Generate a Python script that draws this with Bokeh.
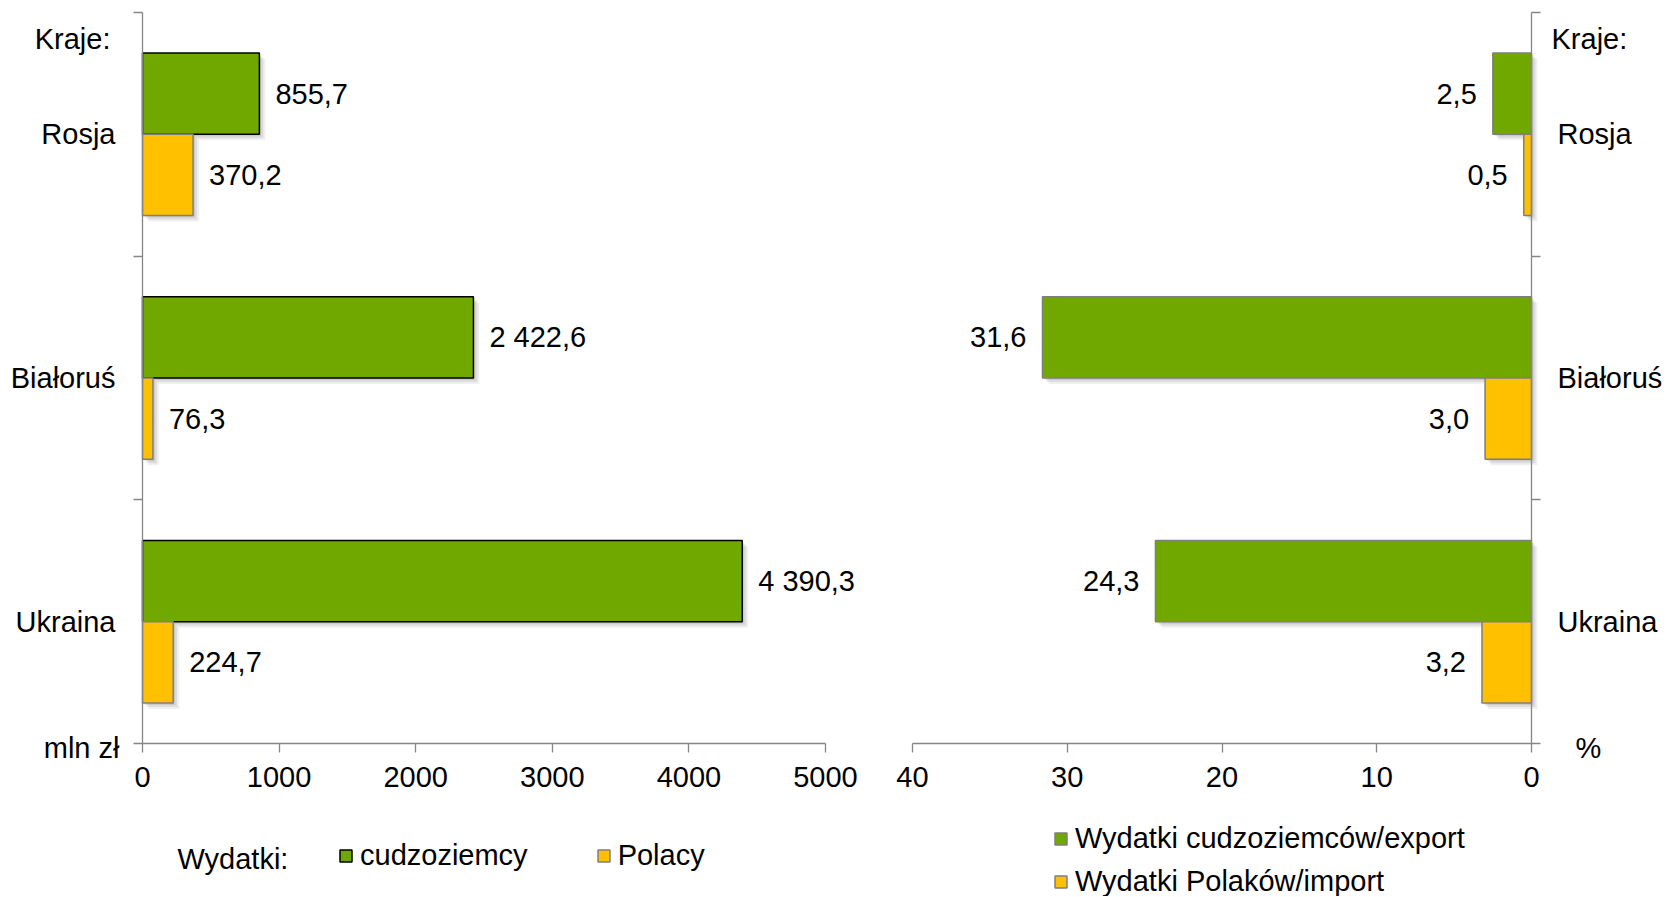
from bokeh.plotting import figure
from bokeh.models import (ColumnDataSource, FixedTicker, LinearAxis, Range1d,
                          Label, LabelSet, Legend, LegendItem)
from bokeh.layouts import row
from bokeh.embed import file_html
from bokeh.resources import INLINE
from bokeh.core.properties import value

# ---------------- data ----------------
countries = ["Rosja", "Białoruś", "Ukraina"]
foreigners_mln = [855.7, 2422.6, 4390.3]      # Wydatki cudzoziemców (mln zł)
poles_mln = [370.2, 76.3, 224.7]              # Wydatki Polaków (mln zł)
foreigners_pct = [2.5, 31.6, 24.3]            # % (export)
poles_pct = [0.5, 3.0, 3.2]                   # % (import)
left_ticks = [0, 1000, 2000, 3000, 4000, 5000]
right_ticks = [0, 10, 20, 30, 40]
left_max = 5000
right_max = 40
y_title = "Kraje:"
left_unit = "mln zł"
right_unit = "%"
legend_left_title = "Wydatki:"
legend_left_labels = ["cudzoziemcy", "Polacy"]
legend_right_labels = ["Wydatki cudzoziemców/export", "Wydatki Polaków/import"]

# ---------------- style / layout (pixels) ----------------
GREEN = "#70A800"
YELLOW = "#FFC000"
GRAY = "#868686"
BAR_EDGE = "#7F7F7F"
FONT = "Liberation Sans"
FS = "29px"
H = 896                          # canvas height
PLOT_TOP, PLOT_BOTTOM = 12, 743  # axis area inside canvas (px from top)
W1, L1, R1 = 870, 142, 825       # left canvas width, axis x-extent
W2, L2, R2 = 803, 42, 661        # right canvas width, axis x-extent
BAR_H = 1 / 3

n = len(countries)
pos = [n - 1 - i for i in range(n)]          # Rosja on top
sy = n / (PLOT_BOTTOM - PLOT_TOP)
y_range = (-0.5 - (H - PLOT_BOTTOM) * sy, n - 0.5 + PLOT_TOP * sy)


def fmt(v):
    return f"{v:,.1f}".replace(",", " ").replace(".", ",")


def make_fig(xr, w):
    p = figure(x_range=xr, y_range=Range1d(*y_range), width=w, height=H,
               min_border=0, output_backend="svg", toolbar_location=None,
               x_axis_location=None, y_axis_location=None)
    p.outline_line_color = None
    p.grid.grid_line_color = None
    p.background_fill_color = "white"
    p.border_fill_color = "white"
    return p


def add_axes(p, xticks, xmax, y_side, standoff):
    xa = LinearAxis(ticker=FixedTicker(ticks=xticks), fixed_location=-0.5,
                    bounds=(0, xmax),
                    axis_line_color=GRAY, axis_line_width=1.3,
                    major_tick_line_color=GRAY, major_tick_line_width=1.3,
                    major_tick_out=9, major_tick_in=0,
                    minor_tick_line_color=None,
                    major_label_text_font=FONT, major_label_text_font_size=FS,
                    major_label_text_color="black", major_label_standoff=14)
    p.add_layout(xa, "below")
    ya = LinearAxis(ticker=FixedTicker(ticks=pos,
                                       minor_ticks=[k - 0.5 for k in range(n + 1)]),
                    fixed_location=0, bounds=(-0.5, n - 0.5),
                    major_label_overrides={pos[i]: countries[i] for i in range(n)},
                    axis_line_color=GRAY, axis_line_width=1.3,
                    major_tick_line_color=None, major_tick_out=0, major_tick_in=0,
                    minor_tick_line_color=GRAY, minor_tick_line_width=1.3,
                    minor_tick_out=9, minor_tick_in=0,
                    major_label_text_font=FONT, major_label_text_font_size=FS,
                    major_label_text_color="black", major_label_standoff=standoff)
    p.add_layout(ya, y_side)


def bars(p, vals, offset, color, line_color, px_x, shadow_dir):
    ys = [y + offset for y in pos]
    for k, a in [(6, 0.06), (4, 0.08), (2, 0.09)]:
        dx = k * px_x * shadow_dir
        p.hbar(y=[y - k * sy for y in ys], left=[dx] * n,
               right=[v + dx for v in vals], height=BAR_H,
               fill_color="black", fill_alpha=a, line_color=None)
    src = ColumnDataSource(dict(y=ys, right=vals, text=[fmt(v) for v in vals]))
    r = p.hbar(y="y", left=0, right="right", height=BAR_H, source=src,
               fill_color=color, line_color=line_color, line_width=1.5)
    return r, src


def text_label(p, x, y, text, dx, dy, align):
    p.add_layout(Label(x=x, y=y, text=text, x_offset=dx, y_offset=dy,
                       text_align=align, text_baseline="middle",
                       text_font=FONT, text_font_size=FS, text_color="black"))


def legend(items, orientation, loc, spacing):
    return Legend(items=items, orientation=orientation, location=loc,
                  glyph_width=15, glyph_height=15, label_standoff=7,
                  spacing=spacing, padding=0, margin=0,
                  border_line_color=None, background_fill_alpha=0,
                  label_text_font=FONT, label_text_font_size=FS,
                  label_text_color="black")


# ---------------- left panel ----------------
sx1 = left_max / (R1 - L1)
p1 = make_fig(Range1d(-L1 * sx1, left_max + (W1 - R1) * sx1), W1)
add_axes(p1, left_ticks, left_max, "left", 18)
g1, gs1 = bars(p1, foreigners_mln, BAR_H / 2, GREEN, "black", sx1, 1)
y1, ys1 = bars(p1, poles_mln, -BAR_H / 2, YELLOW, BAR_EDGE, sx1, 1)
for s in (gs1, ys1):
    p1.add_layout(LabelSet(x="right", y="y", text="text", source=s,
                           x_offset=16, text_align="left", text_baseline="middle",
                           text_font=value(FONT), text_font_size=value(FS),
                           text_color="black"))
text_label(p1, 0, n - 0.61, y_title, -32, 0, "right")
text_label(p1, 0, -0.5, left_unit, -23, -4, "right")
text_label(p1, 0, -0.5, legend_left_title, 35, -115, "left")
p1.add_layout(legend([LegendItem(label=legend_left_labels[0], renderers=[g1]),
                      LegendItem(label=legend_left_labels[1], renderers=[y1])],
                     "horizontal", (338, 24), 68))

# ---------------- right panel ----------------
sx2 = right_max / (R2 - L2)
p2 = make_fig(Range1d(right_max + L2 * sx2, -(W2 - R2) * sx2), W2)
add_axes(p2, right_ticks, right_max, "right", 17)
g2, gs2 = bars(p2, foreigners_pct, BAR_H / 2, GREEN, BAR_EDGE, sx2, -1)
y2, ys2 = bars(p2, poles_pct, -BAR_H / 2, YELLOW, BAR_EDGE, sx2, -1)
for s in (gs2, ys2):
    p2.add_layout(LabelSet(x="right", y="y", text="text", source=s,
                           x_offset=-16, text_align="right", text_baseline="middle",
                           text_font=value(FONT), text_font_size=value(FS),
                           text_color="black"))
text_label(p2, 0, n - 0.61, y_title, 20, 0, "left")
text_label(p2, 0, -0.5, right_unit, 57, -4, "center")
p2.add_layout(legend([LegendItem(label=legend_right_labels[0], renderers=[g2]),
                      LegendItem(label=legend_right_labels[1], renderers=[y2])],
                     "vertical", (183, -2), 10))

layout = row(p1, p2)
open("out.html", "w").write(file_html(layout, INLINE))
